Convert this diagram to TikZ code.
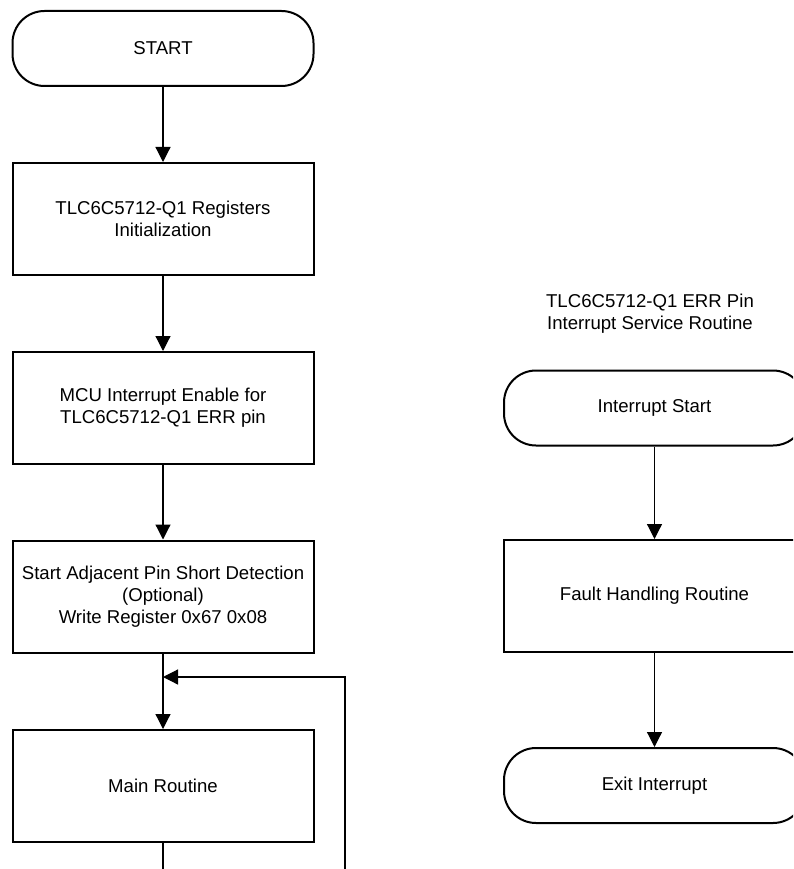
\documentclass[tikz,border=0pt]{standalone}
\usepackage{fontspec}
\setmainfont{Liberation Sans}
\usetikzlibrary{arrows.meta}

\tikzset{
  txt/.style={align=center, font=\fontsize{18.6}{21.7}\selectfont},
  term/.style={txt, draw, line width=2pt, rounded corners=32pt, minimum width=301pt, minimum height=75pt},
  proc/.style={txt, draw, line width=2pt, minimum width=301pt, minimum height=112pt},
  flow/.style={line width=1.2pt, -{Triangle[length=15pt,width=15pt]}},
  wire/.style={line width=1.2pt}
}

\begin{document}
\begin{tikzpicture}[x=1pt, y=-1pt]
    \useasboundingbox (0,0) rectangle (793,869);
    \clip (0,0) rectangle (793,869);

    % main flow
    \node[term] (start) at (163,48.5) {START};
    \node[proc] (init) at (163,219) {TLC6C5712-Q1 Registers\\Initialization};
    \node[proc] (enable) at (163,408) {MCU Interrupt Enable for\\TLC6C5712-Q1 ERR pin};
    \node[proc] (detect) at (163,596.5) {Start Adjacent Pin Short Detection\\(Optional)\\Write Register 0x67 0x08};
    \node[proc] (mainr) at (163,786) {Main Routine};

    \coordinate (join) at (163,677);
    \coordinate (loopup) at (345,677);
    \coordinate (loopin) at (345,890);
    \coordinate (mainout) at (163,890);

    \draw[flow] (start) -- (init);
    \draw[flow] (init) -- (enable);
    \draw[flow] (enable) -- (detect);
    \draw[flow] (detect) -- (mainr);
    \draw[wire] (mainr) -- (mainout);
    \draw[flow] (loopin) -- (loopup) -- (join);

    % interrupt service routine
    \node[txt] (isrtitle) at (650,314) {TLC6C5712-Q1 ERR Pin\\Interrupt Service Routine};
    \node[term] (istart) at (654.5,408) {Interrupt Start};
    \node[proc] (fault) at (654.5,596) {Fault Handling Routine};
    \node[term] (exit) at (654.5,785.5) {Exit Interrupt};

    \draw[flow] (istart) -- (fault);
    \draw[flow] (fault) -- (exit);
\end{tikzpicture}
\end{document}
